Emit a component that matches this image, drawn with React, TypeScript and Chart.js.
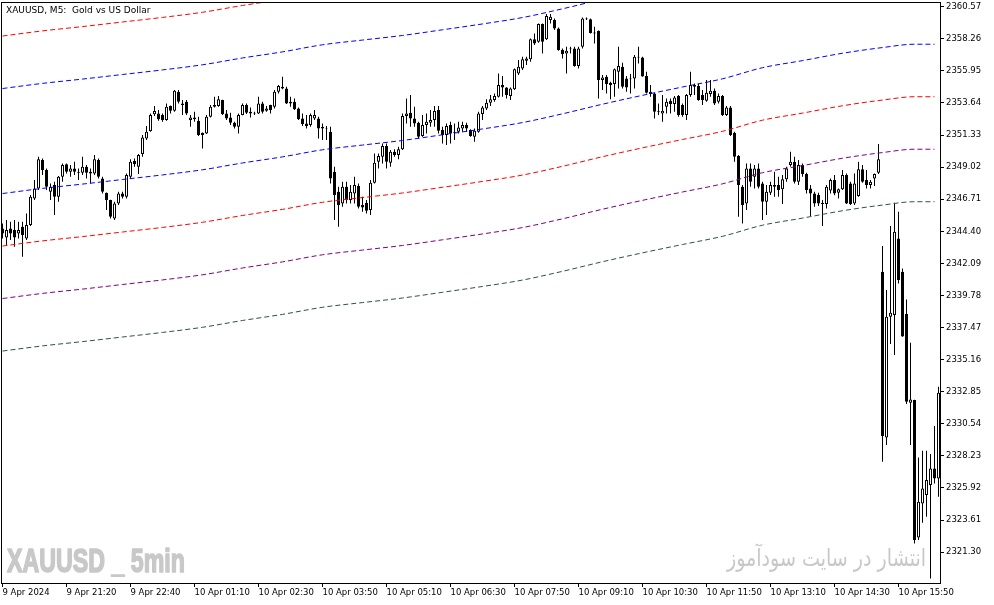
import React, { useEffect, useRef } from 'react';
import { Chart, registerables } from 'chart.js';

Chart.register(...registerables);

// ---- OHLC values (XAUUSD M5), one entry per bar ----
const opens = [
  2344.61, 2343.96, 2344.61, 2344.49, 2344.25, 2344.73, 2343.89, 2344.85, 2346.77, 2347.49,
  2349.53, 2348.81, 2347.25, 2347.73, 2346.89, 2348.33, 2349.22, 2348.69, 2348.93, 2348.69,
  2348.62, 2349.05, 2348.57, 2348.57, 2349.53, 2348.21, 2347.18, 2346.65, 2345.33, 2346.41,
  2347.13, 2346.89, 2348.33, 2349.46, 2349.05, 2349.96, 2351.09, 2351.62, 2352.82, 2352.89,
  2352.77, 2352.41, 2353.42, 2353.08, 2354.45, 2353.61, 2353.73, 2352.41, 2352.46, 2352.36,
  2351.50, 2351.45, 2352.65, 2353.37, 2353.42, 2353.85, 2352.89, 2352.60, 2352.22, 2351.93,
  2352.77, 2353.49, 2352.89, 2352.94, 2352.89, 2353.61, 2353.08, 2353.49, 2353.37, 2354.45,
  2354.69, 2354.69, 2353.73, 2353.73, 2353.25, 2352.53, 2352.17, 2352.05, 2352.53, 2352.53,
  2351.93, 2351.81, 2351.57, 2348.69, 2347.25, 2346.41, 2347.61, 2346.65, 2347.13, 2347.66,
  2346.29, 2346.46, 2345.93, 2347.90, 2349.41, 2349.77, 2350.54, 2349.34, 2350.13, 2349.89,
  2350.30, 2352.70, 2352.94, 2352.53, 2352.22, 2351.26, 2352.05, 2352.22, 2352.41, 2353.13,
  2351.69, 2351.33, 2352.05, 2351.57, 2351.57, 2351.81, 2352.05, 2351.69, 2351.21, 2351.57,
  2352.84, 2353.25, 2353.66, 2353.85, 2354.09, 2354.93, 2354.76, 2354.14, 2354.62, 2355.77,
  2356.13, 2356.68, 2356.78, 2358.22, 2358.05, 2359.32, 2358.22, 2359.61, 2359.61, 2359.01,
  2357.45, 2357.21, 2357.57, 2357.57, 2356.30, 2357.69, 2359.73, 2359.66, 2358.72, 2358.84,
  2355.29, 2355.53, 2355.10, 2355.00, 2355.89, 2356.25, 2355.41, 2355.41, 2355.41, 2356.97,
  2356.92, 2355.58, 2354.45, 2354.33, 2353.06, 2352.89, 2353.37, 2353.80, 2353.56, 2354.14,
  2353.49, 2352.77, 2354.21, 2354.93, 2354.86, 2354.21, 2353.80, 2354.28, 2354.52, 2353.73,
  2354.14, 2352.77, 2353.32, 2351.50, 2349.82, 2347.61, 2346.41, 2348.93, 2348.33, 2348.93,
  2347.85, 2346.53, 2347.18, 2347.73, 2347.73, 2347.42, 2348.14, 2349.17, 2349.41, 2347.97,
  2349.17, 2348.52, 2347.49, 2347.13, 2347.01, 2346.46, 2346.36, 2347.33, 2348.09, 2347.18,
  2347.42, 2348.45, 2347.85, 2346.41, 2346.94, 2348.86, 2348.09, 2347.73, 2348.21, 2348.62,
  2341.49, 2329.56, 2338.25, 2338.37, 2343.89, 2341.49, 2338.44, 2332.06, 2332.25, 2322.36,
  2324.81, 2325.41, 2326.13, 2327.33, 2326.61,
];

const highs = [
  2344.97, 2345.21, 2345.09, 2345.21, 2345.09, 2345.09, 2345.69, 2347.01, 2348.09, 2349.77,
  2349.65, 2348.93, 2347.85, 2347.97, 2348.38, 2349.29, 2349.29, 2349.17, 2349.41, 2348.93,
  2349.77, 2349.17, 2348.93, 2349.89, 2349.65, 2348.33, 2347.20, 2346.67, 2346.53, 2347.25,
  2347.25, 2348.57, 2349.58, 2349.65, 2349.96, 2351.33, 2351.98, 2352.89, 2353.42, 2353.13,
  2352.89, 2353.61, 2353.45, 2354.57, 2354.57, 2353.85, 2353.85, 2352.77, 2353.01, 2352.65,
  2351.52, 2352.77, 2353.49, 2354.09, 2354.14, 2353.88, 2353.13, 2352.94, 2352.29, 2352.89,
  2353.61, 2353.61, 2353.32, 2353.01, 2354.09, 2353.73, 2353.42, 2353.51, 2354.57, 2354.93,
  2355.53, 2354.81, 2354.09, 2353.97, 2353.32, 2352.89, 2352.77, 2352.89, 2353.13, 2352.65,
  2352.17, 2351.98, 2351.93, 2349.05, 2347.61, 2347.97, 2347.97, 2347.73, 2348.33, 2347.85,
  2346.89, 2346.65, 2348.09, 2350.01, 2350.01, 2350.73, 2350.73, 2350.25, 2350.30, 2350.49,
  2352.89, 2353.97, 2354.21, 2353.37, 2352.29, 2352.77, 2352.89, 2353.13, 2353.42, 2353.42,
  2351.93, 2352.17, 2352.29, 2352.17, 2352.29, 2352.29, 2352.22, 2351.74, 2351.81, 2353.01,
  2353.42, 2353.90, 2354.21, 2354.33, 2355.77, 2355.58, 2354.78, 2354.76, 2356.13, 2356.73,
  2356.97, 2356.97, 2358.29, 2358.65, 2359.37, 2359.37, 2360.04, 2360.04, 2359.73, 2359.08,
  2357.57, 2357.69, 2357.69, 2357.69, 2357.69, 2359.80, 2359.80, 2359.73, 2359.13, 2358.86,
  2355.65, 2355.65, 2355.17, 2356.13, 2357.69, 2356.54, 2355.58, 2355.72, 2357.09, 2357.69,
  2356.97, 2355.89, 2354.93, 2354.38, 2353.61, 2354.21, 2353.97, 2353.97, 2354.14, 2354.21,
  2353.61, 2354.28, 2355.89, 2355.05, 2355.05, 2354.57, 2355.29, 2355.29, 2354.69, 2354.33,
  2354.21, 2353.42, 2353.42, 2351.57, 2349.89, 2347.73, 2349.29, 2349.29, 2349.17, 2349.29,
  2347.97, 2347.73, 2347.97, 2348.69, 2348.33, 2348.45, 2349.05, 2350.13, 2349.77, 2349.53,
  2349.29, 2348.62, 2347.73, 2347.25, 2347.18, 2346.65, 2347.73, 2348.21, 2348.45, 2347.49,
  2348.81, 2348.57, 2347.97, 2348.57, 2349.41, 2349.17, 2348.81, 2348.09, 2348.57, 2350.68,
  2343.34, 2340.17, 2344.78, 2346.46, 2345.81, 2341.73, 2339.50, 2336.38, 2332.27, 2328.12,
  2328.60, 2328.60, 2328.36, 2330.38, 2333.21,
];

const lows = [
  2343.89, 2343.41, 2343.77, 2343.29, 2343.89, 2342.57, 2343.77, 2344.78, 2346.65, 2347.37,
  2348.45, 2347.37, 2346.65, 2345.57, 2346.53, 2347.97, 2348.57, 2348.33, 2348.45, 2348.09,
  2348.45, 2348.21, 2347.85, 2348.45, 2348.21, 2347.13, 2345.93, 2345.33, 2345.21, 2346.29,
  2346.77, 2346.77, 2348.21, 2349.05, 2348.52, 2349.77, 2350.97, 2351.57, 2352.70, 2352.36,
  2352.29, 2352.36, 2352.89, 2353.01, 2353.61, 2352.77, 2352.77, 2351.93, 2352.29, 2351.26,
  2350.37, 2351.40, 2352.60, 2353.32, 2353.37, 2352.77, 2352.41, 2352.05, 2351.81, 2351.45,
  2352.75, 2352.84, 2352.60, 2352.77, 2352.84, 2352.89, 2353.01, 2352.89, 2353.25, 2354.33,
  2354.62, 2353.56, 2353.37, 2353.13, 2352.41, 2351.98, 2351.81, 2351.93, 2352.41, 2351.09,
  2350.97, 2350.97, 2347.85, 2345.21, 2344.73, 2346.17, 2346.41, 2346.41, 2346.41, 2346.05,
  2345.81, 2345.69, 2345.57, 2347.85, 2348.93, 2349.29, 2348.93, 2349.05, 2349.77, 2349.58,
  2350.25, 2352.17, 2351.93, 2351.93, 2351.09, 2351.21, 2351.45, 2351.93, 2351.93, 2351.45,
  2350.73, 2350.61, 2350.73, 2350.97, 2351.45, 2351.57, 2351.57, 2351.21, 2350.85, 2351.50,
  2352.41, 2353.13, 2353.42, 2353.73, 2354.04, 2354.09, 2353.97, 2353.85, 2354.57, 2355.65,
  2356.01, 2356.37, 2356.61, 2357.81, 2357.98, 2357.21, 2358.17, 2359.37, 2358.89, 2357.40,
  2356.85, 2355.77, 2357.21, 2356.25, 2356.13, 2357.57, 2359.61, 2358.65, 2357.93, 2353.97,
  2354.57, 2354.33, 2353.90, 2354.09, 2354.69, 2354.69, 2354.45, 2354.33, 2354.69, 2356.49,
  2355.53, 2354.33, 2354.09, 2352.53, 2352.77, 2352.29, 2352.89, 2352.89, 2353.01, 2352.65,
  2352.65, 2352.41, 2354.09, 2354.21, 2353.80, 2353.49, 2353.73, 2354.09, 2353.49, 2353.61,
  2352.70, 2352.70, 2351.26, 2349.41, 2345.45, 2344.97, 2345.93, 2347.61, 2347.49, 2347.49,
  2345.21, 2345.57, 2347.01, 2346.89, 2346.89, 2346.36, 2347.97, 2349.05, 2347.85, 2347.73,
  2348.33, 2347.13, 2345.50, 2346.17, 2346.22, 2344.78, 2346.05, 2347.13, 2346.99, 2346.77,
  2347.37, 2346.36, 2346.29, 2346.29, 2346.89, 2347.90, 2347.49, 2347.49, 2347.66, 2348.52,
  2327.81, 2329.01, 2336.28, 2335.49, 2340.65, 2336.81, 2331.96, 2329.01, 2321.93, 2322.17,
  2323.42, 2323.85, 2319.41, 2326.25, 2325.29,
];

const closes = [
  2344.25, 2344.49, 2344.25, 2343.96, 2344.49, 2344.13, 2344.85, 2346.89, 2347.49, 2349.58,
  2348.81, 2347.61, 2347.61, 2346.89, 2348.33, 2349.17, 2348.69, 2348.93, 2348.69, 2348.62,
  2349.05, 2348.62, 2348.69, 2349.58, 2348.33, 2347.25, 2346.65, 2345.45, 2346.41, 2347.13,
  2346.89, 2348.45, 2349.41, 2349.22, 2349.89, 2351.16, 2351.57, 2352.77, 2353.06, 2352.46,
  2352.41, 2353.37, 2353.08, 2354.52, 2353.73, 2353.49, 2352.89, 2352.60, 2352.60, 2351.33,
  2351.33, 2352.65, 2353.37, 2353.49, 2353.90, 2352.84, 2352.53, 2352.22, 2351.93, 2352.77,
  2353.49, 2352.94, 2353.01, 2352.89, 2353.61, 2353.01, 2353.25, 2353.13, 2354.45, 2354.86,
  2354.81, 2353.61, 2353.61, 2353.18, 2352.46, 2352.12, 2351.98, 2352.77, 2352.77, 2351.81,
  2351.81, 2351.76, 2348.20, 2347.01, 2346.29, 2347.61, 2346.65, 2347.25, 2347.73, 2346.17,
  2346.12, 2345.88, 2347.90, 2349.34, 2349.82, 2350.54, 2349.41, 2350.13, 2349.89, 2350.30,
  2352.70, 2352.89, 2352.53, 2352.17, 2351.21, 2352.05, 2352.29, 2352.41, 2353.06, 2351.64,
  2351.33, 2351.98, 2351.45, 2351.50, 2351.88, 2352.05, 2351.81, 2351.26, 2351.64, 2352.89,
  2353.32, 2353.66, 2353.90, 2354.14, 2354.93, 2354.76, 2354.21, 2354.69, 2356.06, 2356.25,
  2356.78, 2356.85, 2358.22, 2357.93, 2359.32, 2358.05, 2359.90, 2359.85, 2359.01, 2357.45,
  2357.16, 2357.40, 2357.50, 2356.30, 2357.57, 2359.73, 2359.66, 2358.67, 2358.65, 2355.29,
  2355.48, 2355.00, 2354.93, 2356.06, 2356.30, 2354.81, 2354.76, 2355.34, 2356.97, 2356.92,
  2355.55, 2354.38, 2354.28, 2353.01, 2353.01, 2353.08, 2353.73, 2353.56, 2354.04, 2352.77,
  2352.77, 2354.21, 2354.93, 2354.81, 2353.85, 2353.85, 2354.38, 2354.52, 2353.61, 2354.14,
  2352.77, 2353.32, 2351.33, 2349.77, 2347.73, 2346.29, 2348.93, 2347.97, 2348.93, 2347.61,
  2346.53, 2347.25, 2347.73, 2347.61, 2347.37, 2348.14, 2348.93, 2349.41, 2347.97, 2349.17,
  2348.52, 2347.37, 2347.13, 2346.41, 2346.41, 2346.36, 2347.61, 2348.09, 2347.13, 2347.42,
  2348.45, 2346.41, 2346.36, 2347.85, 2348.86, 2347.97, 2347.73, 2347.97, 2348.52, 2349.58,
  2329.66, 2338.25, 2338.54, 2344.37, 2340.89, 2336.83, 2332.13, 2332.30, 2322.17, 2324.93,
  2325.89, 2326.49, 2327.33, 2326.61, 2332.78,
];

// ---- channel lines, sampled at bar indices ----
const lineBars = [0, 10, 20, 30, 40, 50, 60, 70, 80, 90, 100, 110, 120, 130, 140, 150, 160, 170, 180, 190, 200, 210, 220, 228, 233];
const redUpper = [2358.46, 2358.83, 2359.14, 2359.47, 2359.80, 2360.17, 2360.66, 2361.10, 2361.61, 2361.95, 2362.28, 2362.69, 2363.11, 2363.57, 2364.20, 2364.89, 2365.53, 2366.13, 2366.72, 2367.52, 2368.03, 2368.56, 2368.97, 2369.21, 2369.21];
const blueUpper = [2354.68, 2355.05, 2355.36, 2355.69, 2356.02, 2356.39, 2356.88, 2357.32, 2357.83, 2358.17, 2358.50, 2358.91, 2359.33, 2359.79, 2360.42, 2361.11, 2361.75, 2362.35, 2362.94, 2363.74, 2364.25, 2364.78, 2365.19, 2365.43, 2365.43];
const blueLower = [2347.12, 2347.49, 2347.80, 2348.13, 2348.46, 2348.83, 2349.32, 2349.76, 2350.27, 2350.61, 2350.94, 2351.35, 2351.77, 2352.23, 2352.86, 2353.55, 2354.19, 2354.79, 2355.38, 2356.18, 2356.69, 2357.22, 2357.63, 2357.87, 2357.87];
const redLower = [2343.34, 2343.71, 2344.02, 2344.35, 2344.68, 2345.05, 2345.54, 2345.98, 2346.49, 2346.83, 2347.16, 2347.57, 2347.99, 2348.45, 2349.08, 2349.77, 2350.41, 2351.01, 2351.60, 2352.40, 2352.91, 2353.44, 2353.85, 2354.09, 2354.09];
const purpleLine = [2339.56, 2339.93, 2340.24, 2340.57, 2340.90, 2341.27, 2341.76, 2342.20, 2342.71, 2343.05, 2343.38, 2343.79, 2344.21, 2344.67, 2345.30, 2345.99, 2346.63, 2347.23, 2347.82, 2348.62, 2349.13, 2349.66, 2350.07, 2350.31, 2350.31];
const slateLine = [2335.78, 2336.15, 2336.46, 2336.79, 2337.12, 2337.49, 2337.98, 2338.42, 2338.93, 2339.27, 2339.60, 2340.01, 2340.43, 2340.89, 2341.52, 2342.21, 2342.85, 2343.45, 2344.04, 2344.84, 2345.35, 2345.88, 2346.29, 2346.53, 2346.53];

// ---- axes ----
const xTickBars = [0, 16, 32, 48, 64, 80, 96, 112, 128, 144, 160, 176, 192, 208, 224];
const xTickLabels = [
  '9 Apr 2024', '9 Apr 21:20', '9 Apr 22:40', '10 Apr 01:10', '10 Apr 02:30', '10 Apr 03:50',
  '10 Apr 05:10', '10 Apr 06:30', '10 Apr 07:50', '10 Apr 09:10', '10 Apr 10:30', '10 Apr 11:50',
  '10 Apr 13:10', '10 Apr 14:30', '10 Apr 15:50',
];
const yTickValues = [
  2321.30, 2323.61, 2325.92, 2328.23, 2330.54, 2332.85, 2335.16, 2337.47, 2339.78,
  2342.09, 2344.40, 2346.71, 2349.02, 2351.33, 2353.64, 2355.95, 2358.26, 2360.57,
];

const chartTitle = 'XAUUSD, M5:  Gold vs US Dollar';
const watermarkLeft = 'XAUUSD _ 5min';
const watermarkRight = 'انتشار در سایت سودآموز';

const FONT = '"DejaVu Sans", Verdana, sans-serif';

const overlayPlugin = {
  id: 'mtOverlay',
  beforeDraw(chart: any) {
    const { ctx, width, height } = chart;
    ctx.save();
    ctx.fillStyle = '#ffffff';
    ctx.fillRect(0, 0, width, height);
    // watermarks
    ctx.fillStyle = '#c8c8c8';
    ctx.strokeStyle = '#c8c8c8';
    ctx.textBaseline = 'alphabetic';
    ctx.font = 'bold 33px "Liberation Sans Narrow", "Liberation Sans", Arial, sans-serif';
    ctx.textAlign = 'left';
    let w = ctx.measureText(watermarkLeft).width;
    ctx.save();
    ctx.translate(7, 572);
    ctx.scale(178 / w, 1);
    ctx.lineWidth = 1.6;
    ctx.lineJoin = 'round';
    ctx.strokeText(watermarkLeft, 0, 0);
    ctx.fillText(watermarkLeft, 0, 0);
    ctx.restore();
    ctx.font = '24px "DejaVu Sans", sans-serif';
    ctx.textAlign = 'right';
    w = ctx.measureText(watermarkRight).width;
    ctx.save();
    ctx.translate(926, 566);
    ctx.scale(199 / w, 1);
    ctx.fillText(watermarkRight, 0, 0);
    ctx.restore();
    ctx.restore();
  },
  afterDraw(chart: any) {
    const { ctx, chartArea } = chart;
    ctx.save();
    ctx.strokeStyle = '#000';
    ctx.lineWidth = 1;
    ctx.strokeRect(1.5, 2.5, Math.round(chartArea.right) - 1, Math.round(chartArea.bottom) - 2);
    ctx.fillStyle = '#000';
    ctx.font = '9px ' + FONT;
    ctx.textAlign = 'left';
    ctx.textBaseline = 'alphabetic';
    ctx.fillText(chartTitle, 6, 13);
    ctx.restore();
  },
};

export default function App() {
  const ref = useRef<HTMLCanvasElement>(null);

  useEffect(() => {
    document.body.style.margin = '0';
    const canvas = ref.current;
    if (!canvas) return;

    const wickData = highs.map((h, i) => ({ x: i, y: [lows[i], h] }));
    const bodyData = opens.map((o, i) => ({ x: i, y: [o, closes[i]] }));
    const bodyColors = opens.map((o, i) => (closes[i] >= o ? '#ffffff' : '#000000'));
    const mkLine = (vals: number[], color: string) => ({
      type: 'line' as const,
      data: vals.map((v, k) => ({ x: lineBars[k], y: v })),
      borderColor: color,
      borderWidth: 1,
      borderDash: [5, 3],
      pointRadius: 0,
      fill: false,
      cubicInterpolationMode: 'monotone' as const,
      clip: 0,
      order: 0,
    });

    const chart = new Chart(canvas, {
      type: 'bar',
      data: {
        datasets: [
          mkLine(redUpper, '#ff0000'),
          mkLine(blueUpper, '#0000ff'),
          mkLine(blueLower, '#0000ff'),
          mkLine(redLower, '#ff0000'),
          mkLine(purpleLine, '#800080'),
          mkLine(slateLine, '#2f4f4f'),
          {
            type: 'bar',
            data: bodyData as any,
            backgroundColor: bodyColors,
            borderColor: '#000000',
            borderWidth: 1,
            borderSkipped: false,
            barThickness: 3,
            grouped: false,
            inflateAmount: 0,
            clip: 0,
            order: 1,
          } as any,
          {
            type: 'bar',
            data: wickData as any,
            backgroundColor: '#000000',
            borderWidth: 0,
            barThickness: 1,
            grouped: false,
            inflateAmount: 0,
            clip: 0,
            order: 2,
          } as any,
        ],
      },
      options: {
        responsive: false,
        animation: false,
        layout: { padding: { left: 2, top: 2, right: 0, bottom: 0 } },
        plugins: { legend: { display: false }, tooltip: { enabled: false } },
        scales: {
          x: {
            type: 'linear',
            min: -0.125,
            max: 234.375,
            offset: false,
            bounds: 'data',
            grid: { display: true, drawOnChartArea: false, drawTicks: true, tickLength: 4, color: '#000', offset: false },
            border: { display: false },
            afterBuildTicks: (scale: any) => {
              scale.ticks = xTickBars.map((v) => ({ value: v }));
            },
            afterFit: (scale: any) => {
              scale.height = 22;
              scale.paddingLeft = 0;
              scale.paddingRight = 0;
            },
            ticks: {
              autoSkip: false,
              maxRotation: 0,
              minRotation: 0,
              align: 'start',
              padding: 1,
              color: '#000',
              font: { family: FONT, size: 8.5 },
              callback: (_v: any, i: number) => xTickLabels[i],
            },
          },
          y: {
            type: 'linear',
            position: 'right',
            min: 2319.08,
            max: 2360.91,
            bounds: 'data',
            grid: { display: true, drawOnChartArea: false, drawTicks: true, tickLength: 4, color: '#000' },
            border: { display: false },
            afterBuildTicks: (scale: any) => {
              scale.ticks = yTickValues.map((v) => ({ value: v }));
            },
            afterFit: (scale: any) => {
              scale.width = 54;
              scale.paddingTop = 0;
              scale.paddingBottom = 0;
            },
            ticks: {
              padding: 2,
              color: '#000',
              font: { family: FONT, size: 8.5 },
              callback: (v: any) => Number(v).toFixed(2),
            },
          },
        },
      } as any,
      plugins: [overlayPlugin],
    });

    return () => chart.destroy();
  }, []);

  return (
    <canvas
      ref={ref}
      width={994}
      height={605}
      style={{ display: 'block', width: 994, height: 605 }}
    />
  );
}
